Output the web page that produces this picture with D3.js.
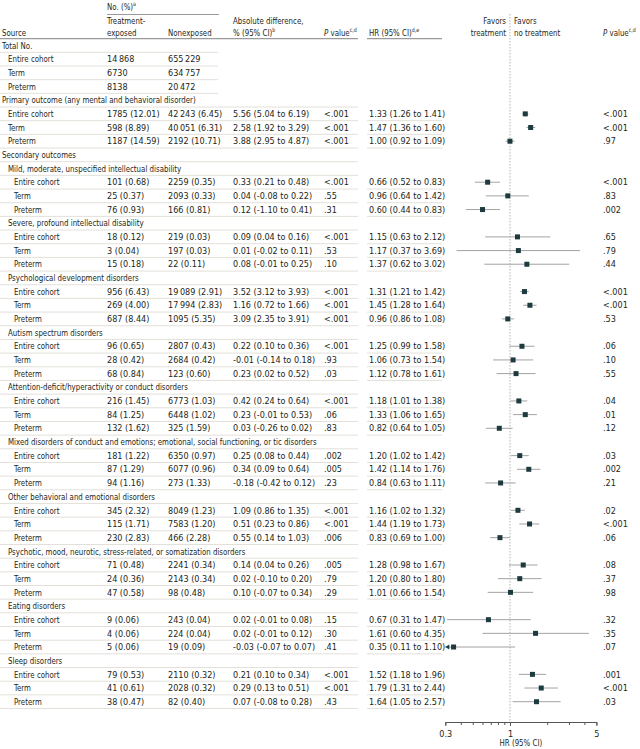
<!DOCTYPE html>
<html><head><meta charset="utf-8">
<script src="https://cdn.jsdelivr.net/npm/d3@7"></script>
<style>
body{margin:0;background:#fff}
svg text{font-family:"Liberation Sans Narrow","DejaVu Sans Condensed","Arial Narrow",sans-serif;font-size:9px;fill:#231f20}
</style></head><body>
<svg id="chart" width="640" height="749"></svg>
<script>
// ---------------- DATA ----------------
const subgroups = ["Entire cohort", "Term", "Preterm"];
const totalExposed = [14868, 6730, 8138];
const totalNonexposed = [655229, 634757, 20472];
const primaryLabel = "Primary outcome (any mental and behavioral disorder)";
const secondaryLabel = "Secondary outcomes";
const secondaryCategories = [
  "Mild, moderate, unspecified intellectual disability",
  "Severe, profound intellectual disability",
  "Psychological development disorders",
  "Autism spectrum disorders",
  "Attention-deficit/hyperactivity or conduct disorders",
  "Mixed disorders of conduct and emotions; emotional, social functioning, or tic disorders",
  "Other behavioral and emotional disorders",
  "Psychotic, mood, neurotic, stress-related, or somatization disorders",
  "Eating disorders",
  "Sleep disorders"
];
// outcome rows: primary (3) then each secondary category (3 each)
const expN = [1785,598,1187, 101,25,76, 18,3,15, 956,269,687, 96,28,68, 216,84,132, 181,87,94, 345,115,230, 71,24,47, 9,4,5, 79,41,38];
const expPct = [12.01,8.89,14.59, 0.68,0.37,0.93, 0.12,0.04,0.18, 6.43,4.00,8.44, 0.65,0.42,0.84, 1.45,1.25,1.62, 1.22,1.29,1.16, 2.32,1.71,2.83, 0.48,0.36,0.58, 0.06,0.06,0.06, 0.53,0.61,0.47];
const nonN = [42243,40051,2192, 2259,2093,166, 219,197,22, 19089,17994,1095, 2807,2684,123, 6773,6448,325, 6350,6077,273, 8049,7583,466, 2241,2143,98, 243,224,19, 2110,2028,82];
const nonPct = [6.45,6.31,10.71, 0.35,0.33,0.81, 0.03,0.03,0.11, 2.91,2.83,5.35, 0.43,0.42,0.60, 1.03,1.02,1.59, 0.97,0.96,1.33, 1.23,1.20,2.28, 0.34,0.34,0.48, 0.04,0.04,0.09, 0.32,0.32,0.40];
const absDiff = [5.56,2.58,3.88, 0.33,0.04,0.12, 0.09,0.01,0.08, 3.52,1.16,3.09, 0.22,-0.01,0.23, 0.42,0.23,0.03, 0.25,0.34,-0.18, 1.09,0.51,0.55, 0.14,0.02,0.10, 0.02,0.02,-0.03, 0.21,0.29,0.07];
const absLow = [5.04,1.92,2.95, 0.21,-0.08,-1.10, 0.04,-0.02,-0.01, 3.12,0.72,2.35, 0.10,-0.14,0.02, 0.24,-0.01,-0.26, 0.08,0.09,-0.42, 0.86,0.23,0.14, 0.04,-0.10,-0.07, -0.01,-0.01,-0.07, 0.10,0.13,-0.08];
const absHigh = [6.19,3.29,4.87, 0.48,0.22,0.41, 0.16,0.11,0.25, 3.93,1.66,3.91, 0.36,0.18,0.52, 0.64,0.53,0.02, 0.44,0.64,0.12, 1.35,0.86,1.03, 0.26,0.20,0.34, 0.08,0.12,0.07, 0.34,0.51,0.28];
const pAbs = ["<.001","<.001","<.001", "<.001",".55",".31", "<.001",".53",".10", "<.001","<.001","<.001", "<.001",".93",".03", "<.001",".06",".83", ".002",".005",".23", "<.001","<.001",".006", ".005",".79",".29", ".15",".30",".41", "<.001","<.001",".43"];
const hr = [1.33,1.47,1.00, 0.66,0.96,0.60, 1.15,1.17,1.37, 1.31,1.45,0.96, 1.25,1.06,1.12, 1.18,1.33,0.82, 1.20,1.42,0.84, 1.16,1.44,0.83, 1.28,1.20,1.01, 0.67,1.61,0.35, 1.52,1.79,1.64];
const hrLow = [1.26,1.36,0.92, 0.52,0.64,0.44, 0.63,0.37,0.62, 1.21,1.28,0.86, 0.99,0.73,0.78, 1.01,1.06,0.64, 1.02,1.14,0.63, 1.02,1.19,0.69, 0.98,0.80,0.66, 0.31,0.60,0.11, 1.18,1.31,1.05];
const hrHigh = [1.41,1.60,1.09, 0.83,1.42,0.83, 2.12,3.69,3.02, 1.42,1.64,1.08, 1.58,1.54,1.61, 1.38,1.65,1.05, 1.42,1.76,1.11, 1.32,1.73,1.00, 1.67,1.80,1.54, 1.47,4.35,1.10, 1.96,2.44,2.57];
const pHR = ["<.001","<.001",".97", "<.001",".83",".002", ".65",".79",".44", "<.001","<.001",".53", ".06",".10",".55", ".04",".01",".12", ".03",".002",".21", ".02","<.001",".06", ".08",".37",".98", ".32",".35",".07", ".001","<.001",".03"];
const axisTicks = [0.3,0.4,0.5,0.6,0.7,0.8,0.9,1,2,3,4,5];
const axisLabels = [0.3,1,5];
const axisTitle = "HR (95% CI)";

// ---------------- LAYOUT ----------------
const svg = d3.select("#chart");
const COL = {lvl:[2,8,14], exp:107, non:168, abs:233, pAbs:324, hr:369, pHR:603};
const SX = 0.87; // horizontal compression for word labels (condensed face)
const thin = "\u2009";
const fmtN = n => n >= 10000 ? d3.format(",")(n).replace(/,/g, thin) : String(n);
const fmtV = v => (v < 0 ? "-" : "") + Math.abs(v).toFixed(2);
const fmtNP = (n,p) => `${fmtN(n)} (${p.toFixed(2)})`;

function word(g, xx, yy, str, anchor){
  const t = g.append("text").attr("transform",`translate(${xx},${yy}) scale(${SX},1)`);
  if (anchor) t.attr("text-anchor", anchor);
  if (str !== undefined) t.text(str);
  return t;
}

// build rows
const rows = [];
rows.push({kind:"group", label:"Total No.", lvl:0, total:true});
subgroups.forEach((s,i)=>rows.push({kind:"total", label:s, lvl:1, e:totalExposed[i], n:totalNonexposed[i]}));
let k = 0;
rows.push({kind:"group", label:primaryLabel, lvl:0});
subgroups.forEach(s=>rows.push({kind:"data", label:s, lvl:1, i:k++}));
rows.push({kind:"group", label:secondaryLabel, lvl:0});
secondaryCategories.forEach(c=>{
  rows.push({kind:"group", label:c, lvl:1});
  subgroups.forEach(s=>rows.push({kind:"data", label:s, lvl:2, i:k++}));
});

const y = d3.scaleLinear().domain([0, rows.length-1]).range([45.5, 701.7]);
const half = 6.83;
const x = d3.scaleLog().domain([0.3, 5]).range([445.3, 596.4]);

const lineCol = "#e3e0d9";
// row separator lines
const gl = svg.append("g");
rows.forEach((r,ri)=>{
  const yy = y(ri) + half;
  const isTotal = r.kind==="total" || r.total;
  gl.append("line").attr("x1",0).attr("x2", isTotal ? 218 : 358)
    .attr("y1",yy).attr("y2",yy).attr("stroke",lineCol).attr("stroke-width",1);
  if (r.kind==="data") {
    gl.append("line").attr("x1",367).attr("x2",442)
      .attr("y1",yy).attr("y2",yy).attr("stroke",lineCol).attr("stroke-width",1);
  }
});

// header
const hdr = svg.append("g");
const hb1 = 23.5, hb2 = 35.5;
function sup(t, s){ t.append("tspan").attr("font-size","6px").attr("dy",-3.5).text(s); }
sup(word(hdr, COL.exp, 9.5, "No. (%)"), "a");
hdr.append("line").attr("x1",COL.exp).attr("x2",219).attr("y1",14.5).attr("y2",14.5).attr("stroke","#9a9a9a").attr("stroke-width",1.2);
word(hdr, COL.lvl[0], hb2, "Source");
word(hdr, COL.exp, hb1, "Treatment-");
word(hdr, COL.exp, hb2, "exposed");
word(hdr, COL.non, hb2, "Nonexposed");
word(hdr, COL.abs, hb1, "Absolute difference,");
sup(word(hdr, COL.abs, hb2, "% (95% CI)"), "b");
function pHeader(xx){
  const t = word(hdr, xx, hb2);
  t.append("tspan").attr("font-style","italic").text("P");
  t.append("tspan").text(" value");
  sup(t, "c,d");
}
pHeader(COL.pAbs);
sup(word(hdr, COL.hr, hb2, "HR (95% CI)"), "d,e");
word(hdr, 506, hb1, "Favors", "end");
word(hdr, 506, hb2, "treatment", "end");
word(hdr, 514, hb1, "Favors");
word(hdr, 514, hb2, "no treatment");
pHeader(COL.pHR);
const hl = y(0) - half;
hdr.append("line").attr("x1",0).attr("x2",358).attr("y1",hl).attr("y2",hl).attr("stroke","#9a9a9a").attr("stroke-width",1.2);
hdr.append("line").attr("x1",367).attr("x2",442).attr("y1",hl).attr("y2",hl).attr("stroke","#9a9a9a").attr("stroke-width",1.2);

// reference line at HR = 1
svg.append("line").attr("x1",x(1)).attr("x2",x(1)).attr("y1",14).attr("y2",722)
  .attr("stroke","#b5b5b5").attr("stroke-width",1).attr("stroke-dasharray","1.5,1.5");

// table text
const gt = svg.append("g");
const base = 3.2;
rows.forEach((r,ri)=>{
  const yy = y(ri) + base;
  word(gt, COL.lvl[r.lvl], yy, r.label);
  if (r.kind==="total") {
    gt.append("text").attr("x",COL.exp).attr("y",yy).text(fmtN(r.e));
    gt.append("text").attr("x",COL.non).attr("y",yy).text(fmtN(r.n));
  }
  if (r.kind==="data") {
    const i = r.i;
    gt.append("text").attr("x",COL.exp).attr("y",yy).text(fmtNP(expN[i],expPct[i]));
    gt.append("text").attr("x",COL.non).attr("y",yy).text(fmtNP(nonN[i],nonPct[i]));
    gt.append("text").attr("x",COL.abs).attr("y",yy).text(`${fmtV(absDiff[i])} (${fmtV(absLow[i])} to ${fmtV(absHigh[i])})`);
    gt.append("text").attr("x",COL.pAbs).attr("y",yy).text(pAbs[i]);
    gt.append("text").attr("x",COL.hr).attr("y",yy).text(`${hr[i].toFixed(2)} (${hrLow[i].toFixed(2)} to ${hrHigh[i].toFixed(2)})`);
    gt.append("text").attr("x",COL.pHR).attr("y",yy).text(pHR[i]);
  }
});

// forest marks
const gf = svg.append("g");
const [dMin, dMax] = x.domain();
rows.forEach((r,ri)=>{
  if (r.kind!=="data") return;
  const i = r.i, yy = y(ri);
  const lo = Math.max(hrLow[i], dMin), hi = Math.min(hrHigh[i], dMax);
  gf.append("line").attr("x1",x(lo)).attr("x2",x(hi)).attr("y1",yy).attr("y2",yy)
    .attr("stroke","#a3a3a3").attr("stroke-width",1);
  if (hrLow[i] < dMin) {
    const xa = x(dMin);
    gf.append("path").attr("d",`M${xa},${yy} l4,-2.5 l0,5 z`).attr("fill","#1d3a3f");
  }
  gf.append("rect").attr("x",x(hr[i])-2.5).attr("y",yy-2.5).attr("width",5).attr("height",5).attr("fill","#1d3a3f");
});

// axis
const axY = 722;
const ax = svg.append("g").attr("transform",`translate(0,${axY})`)
  .call(d3.axisBottom(x).tickValues(axisTicks).tickSizeOuter(0).tickSize(3)
    .tickFormat(d => axisLabels.includes(d) ? String(d) : ""));
ax.attr("font-family",null).attr("font-size",null);
ax.select(".domain").attr("stroke","#555");
ax.selectAll(".tick line").attr("stroke","#555").attr("y2", d => axisLabels.includes(d) ? 4 : 3);
ax.selectAll(".tick text").attr("y",8.5);
word(svg, (x.range()[0]+x.range()[1])/2, 746, axisTitle, "middle");
</script></body></html>
